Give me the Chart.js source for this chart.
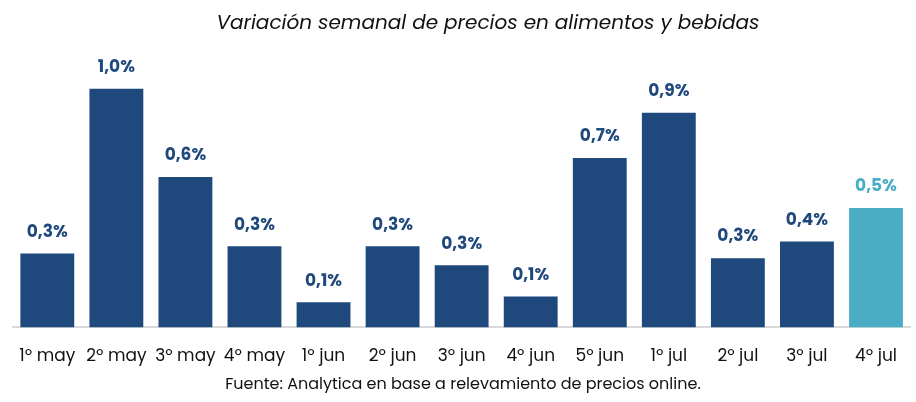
<!DOCTYPE html>
<html>
<head>
<meta charset="utf-8">
<script src="https://cdn.jsdelivr.net/npm/chart.js@4.4.0/dist/chart.umd.min.js"></script>
<style>
html,body{margin:0;padding:0;background:#fff;}
#wrap{width:916px;height:402px;}
</style>
</head>
<body>
<div id="wrap"><canvas id="c"></canvas></div>
<script>
const categories = ["1º may","2º may","3º may","4º may","1º jun","2º jun","3º jun","4º jun","5º jun","1º jul","2º jul","3º jul","4º jul"];
const values = [0.31, 1.00, 0.63, 0.34, 0.105, 0.34, 0.26, 0.13, 0.71, 0.90, 0.29, 0.36, 0.50];
const valueLabels = ["0,3%","1,0%","0,6%","0,3%","0,1%","0,3%","0,3%","0,1%","0,7%","0,9%","0,3%","0,4%","0,5%"];
const titleText = "Variación semanal de precios en alimentos y bebidas";
const sourceText = "Fuente: Analytica en base a relevamiento de precios online.";
const darkBlue = "#1F497D";
const lightBlue = "#4BACC6";
const barColors = categories.map((c,i)=> i===categories.length-1 ? lightBlue : darkBlue);
const FONT = "Poppins, Inter, 'Open Sans', sans-serif";

const labelPlugin = {
  id:'valueLabels',
  afterDatasetsDraw(chart){
    const ctx = chart.ctx;
    const meta = chart.getDatasetMeta(0);
    ctx.save();
    ctx.font = "bold 17px " + FONT;
    ctx.textAlign = 'center';
    ctx.textBaseline = 'middle';
    meta.data.forEach((bar,i)=>{
      ctx.fillStyle = barColors[i];
      ctx.fillText(valueLabels[i], bar.x, bar.y - 21);
    });
    ctx.restore();
  }
};

const titlePlugin = {
  id:'offsetTitle',
  afterDraw(chart){
    const ctx = chart.ctx;
    ctx.save();
    ctx.font = "italic 20px " + FONT;
    ctx.fillStyle = "#111";
    ctx.textAlign = 'center';
    ctx.textBaseline = 'middle';
    ctx.fillText(titleText, 488, 24);
    ctx.restore();
  }
};

new Chart(document.getElementById('c'), {
  type:'bar',
  data:{
    labels: categories,
    datasets:[{data: values, backgroundColor: barColors, barPercentage:0.78, categoryPercentage:1.0}]
  },
  options:{
    responsive:true,
    maintainAspectRatio:false,
    animation:false,
    layout:{padding:{left:12,right:2,top:53,bottom:0}},
    plugins:{
      legend:{display:false},
      tooltip:{enabled:false},
      title:{display:false},
      subtitle:{display:true,position:'bottom',text:sourceText,color:"#111",
        font:{family:FONT,size:16,weight:'normal'},padding:{top:-10,bottom:7}}
    },
    scales:{
      x:{
        grid:{display:false,drawTicks:false},
        border:{display:true,color:"#d9d9d9",width:2},
        ticks:{color:"#111",font:{family:FONT,size:17},padding:19,maxRotation:0,autoSkip:false}
      },
      y:{display:false,min:0,max:1.15}
    }
  },
  plugins:[labelPlugin, titlePlugin]
});
</script>
</body>
</html>
